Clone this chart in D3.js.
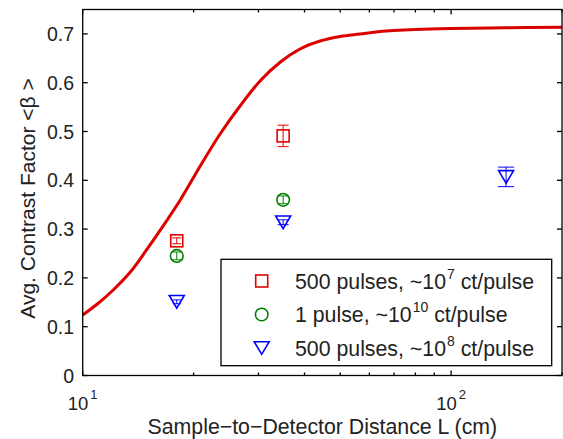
<!DOCTYPE html>
<html><head><meta charset="utf-8">
<script src="https://cdn.jsdelivr.net/npm/d3@7"></script>
<style>html,body{margin:0;padding:0;background:#fff;}svg{display:block;}text{font-family:"Liberation Sans",Arial,Helvetica,sans-serif;fill:#222;}</style>
</head><body><svg id="c" width="563" height="439"></svg>
<script>
// ---- data ----
const curveL = [10, 11, 12.1, 13.5, 14.9, 16.5, 18.4, 20.85, 23.6, 26.8, 30.3, 34.4, 38.9, 44.1, 50, 56.6, 64.1, 80, 100, 140, 200];
const curveBeta = [0.124, 0.1475, 0.1752, 0.2131, 0.2572, 0.3055, 0.3596, 0.4293, 0.4949, 0.5533, 0.6035, 0.6424, 0.6691, 0.6854, 0.6947, 0.6998, 0.7049, 0.709, 0.7111, 0.7125, 0.7135];

const sqL = [18, 35];
const sqBeta = [0.276, 0.491];
const sqErr = [0.006, 0.022];

const ciL = [18, 35];
const ciBeta = [0.245, 0.36];
const ciErr = [0.008, 0.008];

const trL = [18, 35, 141];
const trBeta = [0.151, 0.314, 0.407];
const trErr = [0.004, 0.005, 0.02];

const yTicks = [0, 0.1, 0.2, 0.3, 0.4, 0.5, 0.6, 0.7];
const yTickLabels = ["0", "0.1", "0.2", "0.3", "0.4", "0.5", "0.6", "0.7"];
const xMajor = [10, 100];
const xMajorExp = ["1", "2"];
const xMinor = [20, 30, 40, 50, 60, 70, 80, 90, 200];
const legendLabels = [
  ["500 pulses, ~10", "7", " ct/pulse"],
  ["1 pulse, ~10", "10", " ct/pulse"],
  ["500 pulses, ~10", "8", " ct/pulse"]
];
const xTitle = "Sample\u2212to\u2212Detector Distance L (cm)";
const yTitle = "Avg. Contrast Factor <\u03b2 >";

// ---- layout ----
const L = 82.7, R = 562, T = 9.5, B = 375.5;
const RED = "#e00000", GREEN = "#008000", BLUE = "#0000ff";
const svg = d3.select("#c");
const x = d3.scaleLog().domain([10, 200]).range([L, R]);
const y = d3.scaleLinear().domain([0, 0.75]).range([B, T]);

// curve
const line = d3.line().x(d => x(d[0])).y(d => y(d[1])).curve(d3.curveCatmullRom.alpha(0.5));
svg.append("path").datum(curveL.map((v, i) => [v, curveBeta[i]]))
  .attr("d", line).attr("fill", "none").attr("stroke", "#dd0000").attr("stroke-width", 3);

// error bars
function errBars(Ls, Bs, Es, color, caps) {
  Ls.forEach((l, i) => {
    const cap = caps[i];
    const cx = x(l), y0 = y(Bs[i] - Es[i]), y1 = y(Bs[i] + Es[i]);
    const g = svg.append("g").attr("stroke", color).attr("stroke-width", 1);
    g.append("line").attr("x1", cx).attr("x2", cx).attr("y1", y0).attr("y2", y1);
    g.append("line").attr("x1", cx - cap / 2).attr("x2", cx + cap / 2).attr("y1", y0).attr("y2", y0);
    g.append("line").attr("x1", cx - cap / 2).attr("x2", cx + cap / 2).attr("y1", y1).attr("y2", y1);
  });
}
errBars(sqL, sqBeta, sqErr, RED, [9, 11]);
errBars(ciL, ciBeta, ciErr, GREEN, [9, 11]);
errBars(trL, trBeta, trErr, BLUE, [8, 11, 16]);

function square(g, cx, cy) {
  g.append("rect").attr("x", cx - 6).attr("y", cy - 6).attr("width", 12).attr("height", 12)
    .attr("fill", "none").attr("stroke", RED).attr("stroke-width", 1.6);
}
function circle(g, cx, cy) {
  g.append("circle").attr("cx", cx).attr("cy", cy).attr("r", 6.3)
    .attr("fill", "none").attr("stroke", GREEN).attr("stroke-width", 1.6);
}
function tri(g, cx, cy) {
  g.append("path").attr("d", `M${cx - 7.5},${cy - 6.3}L${cx + 7.5},${cy - 6.3}L${cx},${cy + 6.3}Z`)
    .attr("fill", "none").attr("stroke", BLUE).attr("stroke-width", 1.6);
}
const gm = svg.append("g");
sqL.forEach((l, i) => square(gm, x(l), y(sqBeta[i])));
ciL.forEach((l, i) => circle(gm, x(l), y(ciBeta[i])));
trL.forEach((l, i) => tri(gm, x(l), y(trBeta[i])));

// axes frame
const ax = svg.append("g").attr("stroke", "#000").attr("stroke-width", 1.3).attr("fill", "none");
ax.append("rect").attr("x", L).attr("y", T).attr("width", R - L).attr("height", B - T);
yTicks.forEach((v, i) => {
  const yy = y(v);
  ax.append("line").attr("x1", L).attr("x2", L + 5).attr("y1", yy).attr("y2", yy);
  ax.append("line").attr("x1", R - 5).attr("x2", R).attr("y1", yy).attr("y2", yy);
  svg.append("text").attr("x", 74).attr("y", yy).attr("dy", "0.36em").attr("text-anchor", "end")
    .attr("font-size", 19.5).text(yTickLabels[i]);
});
xMajor.forEach((v, i) => {
  const xx = x(v);
  ax.append("line").attr("x1", xx).attr("x2", xx).attr("y1", B).attr("y2", B - 5);
  ax.append("line").attr("x1", xx).attr("x2", xx).attr("y1", T).attr("y2", T + 5);
  const t = svg.append("text").attr("x", xx).attr("y", 410).attr("text-anchor", "middle").attr("font-size", 18.5);
  t.append("tspan").text("10");
  t.append("tspan").attr("font-size", 13).attr("dy", -11).attr("dx", 2).text(xMajorExp[i]);
});
xMinor.forEach(v => {
  const xx = x(v);
  ax.append("line").attr("x1", xx).attr("x2", xx).attr("y1", B).attr("y2", B - 3);
  ax.append("line").attr("x1", xx).attr("x2", xx).attr("y1", T).attr("y2", T + 3);
});

// titles
svg.append("text").attr("x", (L + R) / 2).attr("y", 434).attr("text-anchor", "middle")
  .attr("font-size", 21.3).text(xTitle);
svg.append("text").attr("transform", `translate(35,198.5) rotate(-90)`).attr("text-anchor", "middle")
  .attr("font-size", 21).text(yTitle);

// legend
const lg = svg.append("g");
lg.append("rect").attr("x", 221).attr("y", 259.3).attr("width", 330.7).attr("height", 106.4)
  .attr("fill", "#fff").attr("stroke", "#000").attr("stroke-width", 1.3);
const rowY = [281, 314.5, 348];
const markers = [square, circle, tri];
rowY.forEach((ry, i) => {
  markers[i](lg, 261.7, ry);
  const t = lg.append("text").attr("x", 295).attr("y", ry).attr("dy", "0.36em").attr("font-size", 21.3);
  t.append("tspan").text(legendLabels[i][0]);
  t.append("tspan").attr("font-size", 14).attr("dy", -10).attr("dx", 1).text(legendLabels[i][1]);
  t.append("tspan").attr("dy", 10).text(legendLabels[i][2]);
});
</script></body></html>
